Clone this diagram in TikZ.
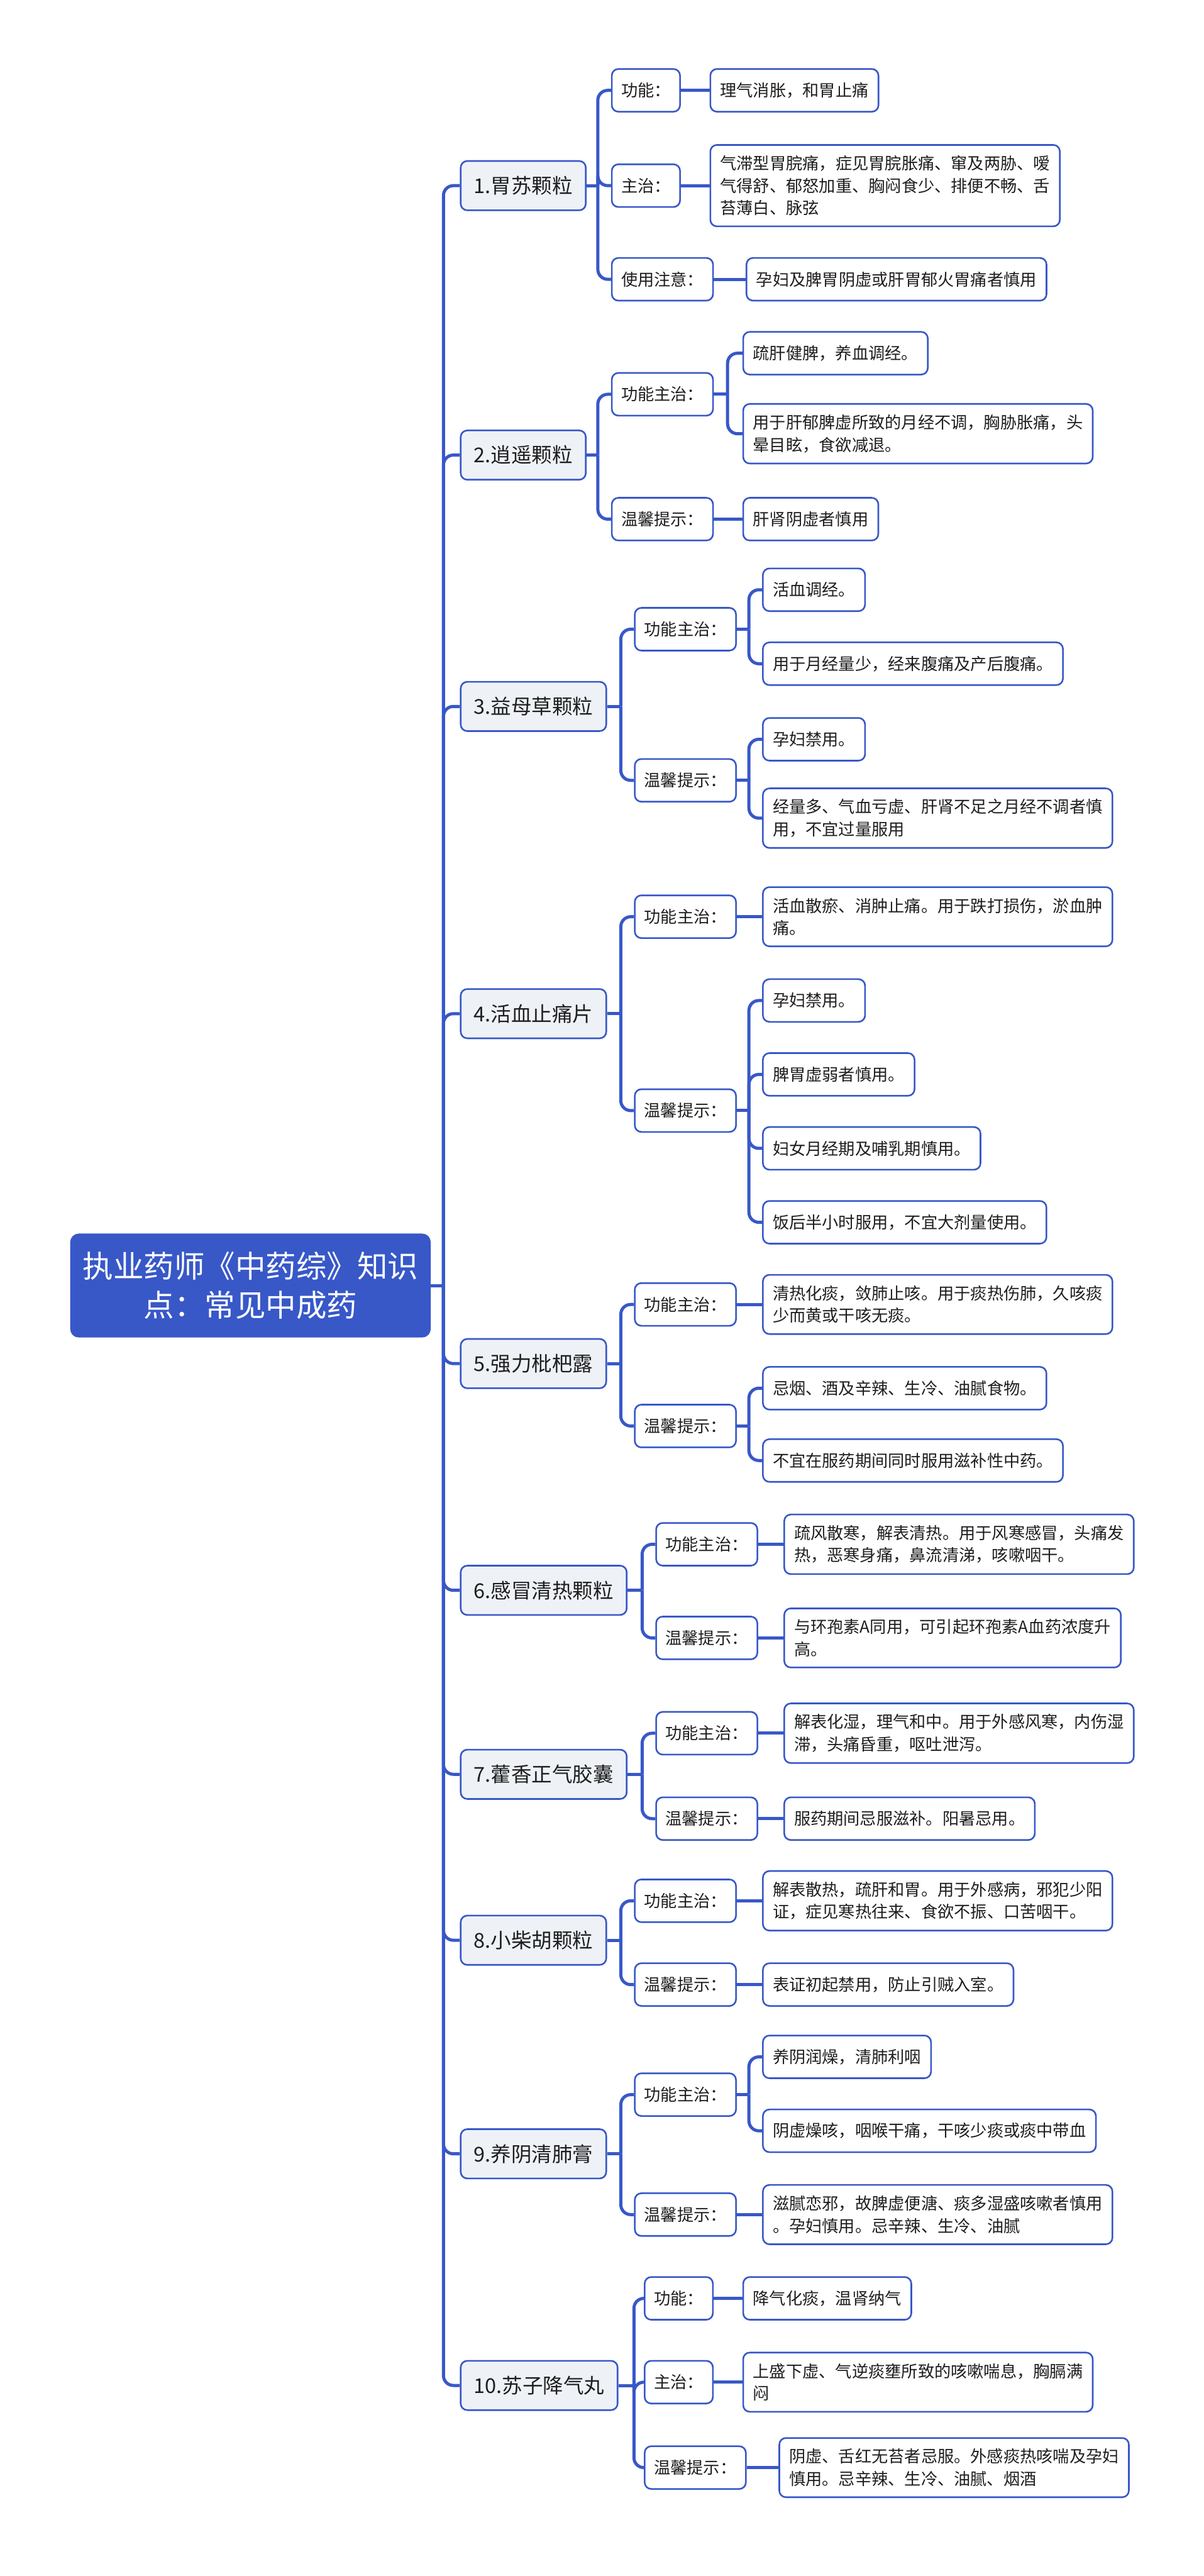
\documentclass[tikz,border=0pt]{standalone}
\usepackage{fontspec}
\setmainfont{Noto Sans CJK SC}

\definecolor{mapblue}{RGB}{56,88,200}
\definecolor{topicfill}{RGB}{238,242,247}
\definecolor{inktext}{RGB}{30,30,30}

\begin{document}
\begin{tikzpicture}[
  x=0.035cm, y=-0.035cm,
  font=\fontsize{10pt}{13.5pt}\selectfont,
  root/.style={fill=mapblue, draw=mapblue, rounded corners=5pt, text=white, align=center,
    font=\fontsize{18.5pt}{24pt}\selectfont, minimum width=7.67cm, minimum height=2.2cm},
  topic/.style={draw=mapblue, line width=1pt, fill=topicfill, rounded corners=4pt, anchor=west,
    inner xsep=0.28cm, minimum height=1.05cm, text=inktext, font=\fontsize{12.4pt}{15pt}\selectfont},
  tag/.style={draw=mapblue, line width=1pt, fill=white, rounded corners=4pt, anchor=west,
    inner xsep=0.2cm, minimum height=0.91cm, text=inktext},
  leaf/.style={draw=mapblue, line width=1pt, fill=white, rounded corners=4pt, anchor=west,
    inner xsep=0.21cm, inner ysep=0.23cm, minimum height=0.91cm, align=left, text=inktext},
  link/.style={draw=mapblue, line width=1.9pt, rounded corners=6pt}
]
\useasboundingbox (0,0) rectangle (733,1568);

% root and trunk
\node[root] (root) at (152.5,782.5) {执业药师《中药综》知识\\点：常见中成药};
\coordinate (trunk) at (270,782.5);

% 1
\node[topic] (b1) at (280,113) {1.胃苏颗粒};
\node[tag] (b1t1) at (372,55) {功能：};
\node[tag] (b1t2) at (372,113) {主治：};
\node[tag] (b1t3) at (372,170) {使用注意：};
\node[leaf] (b1l1) at (432,55) {理气消胀，和胃止痛};
\node[leaf] (b1l2) at (432,113) {气滞型胃脘痛，症见胃脘胀痛、窜及两胁、嗳\\气得舒、郁怒加重、胸闷食少、排便不畅、舌\\苔薄白、脉弦};
\node[leaf] (b1l3) at (454,170) {孕妇及脾胃阴虚或肝胃郁火胃痛者慎用};

% 2
\node[topic] (b2) at (280,277) {2.逍遥颗粒};
\node[tag] (b2t1) at (372,240) {功能主治：};
\node[tag] (b2t2) at (372,316) {温馨提示：};
\node[leaf] (b2l1) at (452,215) {疏肝健脾，养血调经。};
\node[leaf] (b2l2) at (452,264) {用于肝郁脾虚所致的月经不调，胸胁胀痛，头\\晕目眩，食欲减退。};
\node[leaf] (b2l3) at (452,316) {肝肾阴虚者慎用};

% 3
\node[topic] (b3) at (280,430) {3.益母草颗粒};
\node[tag] (b3t1) at (386,383) {功能主治：};
\node[tag] (b3t2) at (386,475) {温馨提示：};
\node[leaf] (b3l1) at (464,359) {活血调经。};
\node[leaf] (b3l2) at (464,404) {用于月经量少，经来腹痛及产后腹痛。};
\node[leaf] (b3l3) at (464,450) {孕妇禁用。};
\node[leaf] (b3l4) at (464,498) {经量多、气血亏虚、肝肾不足之月经不调者慎\\用，不宜过量服用};

% 4
\node[topic] (b4) at (280,617) {4.活血止痛片};
\node[tag] (b4t1) at (386,558) {功能主治：};
\node[tag] (b4t2) at (386,676) {温馨提示：};
\node[leaf] (b4l1) at (464,558) {活血散瘀、消肿止痛。用于跌打损伤，淤血肿\\痛。};
\node[leaf] (b4l2) at (464,609) {孕妇禁用。};
\node[leaf] (b4l3) at (464,654) {脾胃虚弱者慎用。};
\node[leaf] (b4l4) at (464,699) {妇女月经期及哺乳期慎用。};
\node[leaf] (b4l5) at (464,744) {饭后半小时服用，不宜大剂量使用。};

% 5
\node[topic] (b5) at (280,830) {5.强力枇杷露};
\node[tag] (b5t1) at (386,794) {功能主治：};
\node[tag] (b5t2) at (386,868) {温馨提示：};
\node[leaf] (b5l1) at (464,794) {清热化痰，敛肺止咳。用于痰热伤肺，久咳痰\\少而黄或干咳无痰。};
\node[leaf] (b5l2) at (464,845) {忌烟、酒及辛辣、生冷、油腻食物。};
\node[leaf] (b5l3) at (464,889) {不宜在服药期间同时服用滋补性中药。};

% 6
\node[topic] (b6) at (280,968) {6.感冒清热颗粒};
\node[tag] (b6t1) at (399,940) {功能主治：};
\node[tag] (b6t2) at (399,997) {温馨提示：};
\node[leaf] (b6l1) at (477,940) {疏风散寒，解表清热。用于风寒感冒，头痛发\\热，恶寒身痛，鼻流清涕，咳嗽咽干。};
\node[leaf] (b6l2) at (477,997) {与环孢素A同用，可引起环孢素A血药浓度升\\高。};

% 7
\node[topic] (b7) at (280,1080) {7.藿香正气胶囊};
\node[tag] (b7t1) at (399,1055) {功能主治：};
\node[tag] (b7t2) at (399,1107) {温馨提示：};
\node[leaf] (b7l1) at (477,1055) {解表化湿，理气和中。用于外感风寒，内伤湿\\滞，头痛昏重，呕吐泄泻。};
\node[leaf] (b7l2) at (477,1107) {服药期间忌服滋补。阳暑忌用。};

% 8
\node[topic] (b8) at (280,1181) {8.小柴胡颗粒};
\node[tag] (b8t1) at (386,1157) {功能主治：};
\node[tag] (b8t2) at (386,1208) {温馨提示：};
\node[leaf] (b8l1) at (464,1157) {解表散热，疏肝和胃。用于外感病，邪犯少阳\\证，症见寒热往来、食欲不振、口苦咽干。};
\node[leaf] (b8l2) at (464,1208) {表证初起禁用，防止引贼入室。};

% 9
\node[topic] (b9) at (280,1311) {9.养阴清肺膏};
\node[tag] (b9t1) at (386,1275) {功能主治：};
\node[tag] (b9t2) at (386,1348) {温馨提示：};
\node[leaf] (b9l1) at (464,1252) {养阴润燥，清肺利咽};
\node[leaf] (b9l2) at (464,1297) {阴虚燥咳，咽喉干痛，干咳少痰或痰中带血};
\node[leaf] (b9l3) at (464,1348) {滋腻恋邪，故脾虚便溏、痰多湿盛咳嗽者慎用\\。孕妇慎用。忌辛辣、生冷、油腻};

% 10
\node[topic] (b10) at (280,1452) {10.苏子降气丸};
\node[tag] (b10t1) at (392,1399) {功能：};
\node[tag] (b10t2) at (392,1450) {主治：};
\node[tag] (b10t3) at (392,1502) {温馨提示：};
\node[leaf] (b10l1) at (452,1399) {降气化痰，温肾纳气};
\node[leaf] (b10l2) at (452,1450) {上盛下虚、气逆痰壅所致的咳嗽喘息，胸膈满\\闷};
\node[leaf] (b10l3) at (474,1502) {阴虚、舌红无苔者忌服。外感痰热咳喘及孕妇\\慎用。忌辛辣、生冷、油腻、烟酒};

% connectors: trunk
\draw[link] (root.east) -- (trunk);
\foreach \b in {b1,b2,b3,b4,b5,b6,b7,b8,b9,b10}
  \draw[link] (trunk) |- (\b.west);

% connectors: topic -> tags
\foreach \b/\jx/\tags in {b1/364/{b1t1,b1t2,b1t3}, b2/364/{b2t1,b2t2}, b3/378/{b3t1,b3t2},
    b4/378/{b4t1,b4t2}, b5/378/{b5t1,b5t2}, b6/391/{b6t1,b6t2}, b7/391/{b7t1,b7t2},
    b8/378/{b8t1,b8t2}, b9/378/{b9t1,b9t2}, b10/386/{b10t1,b10t2,b10t3}} {
  \draw[link] (\b.east) -- (\b.east -| {(\jx,0)}) coordinate (j);
  \foreach \t in \tags
    \draw[link] (j) |- (\t.west);
}

% connectors: tags -> single leaf
\foreach \t/\l in {b1t1/b1l1, b1t2/b1l2, b1t3/b1l3, b2t2/b2l3, b4t1/b4l1, b5t1/b5l1,
    b6t1/b6l1, b6t2/b6l2, b7t1/b7l1, b7t2/b7l2, b8t1/b8l1, b8t2/b8l2, b9t2/b9l3,
    b10t1/b10l1, b10t2/b10l2, b10t3/b10l3}
  \draw[link] (\t.east) -- (\l.west);

% connectors: tags -> several leaves
\foreach \t/\kx/\leaves in {b2t1/443/{b2l1,b2l2}, b3t1/456/{b3l1,b3l2}, b3t2/456/{b3l3,b3l4},
    b4t2/456/{b4l2,b4l3,b4l4,b4l5}, b5t2/456/{b5l2,b5l3}, b9t1/456/{b9l1,b9l2}} {
  \draw[link] (\t.east) -- (\t.east -| {(\kx,0)}) coordinate (k);
  \foreach \l in \leaves
    \draw[link] (k) |- (\l.west);
}
\end{tikzpicture}
\end{document}
